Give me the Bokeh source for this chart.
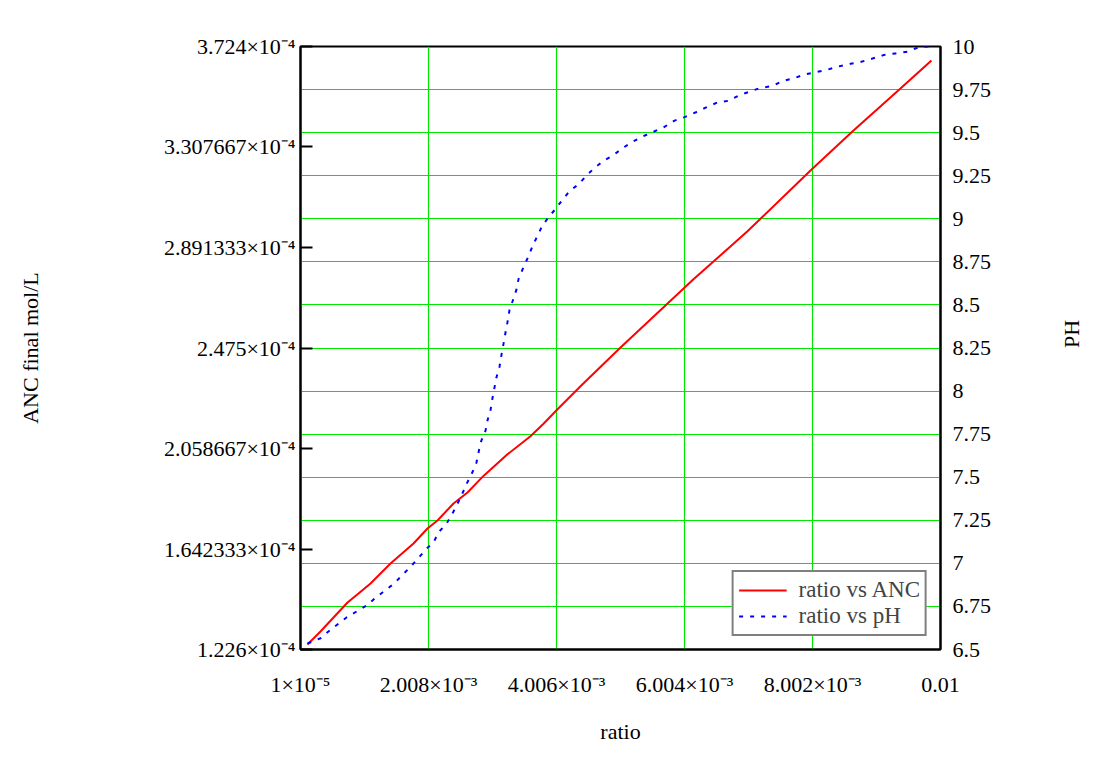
import math
from bokeh.plotting import figure
from bokeh.models import Range1d, LinearAxis, FixedTicker, Grid, Legend, LegendItem
from bokeh.embed import file_html
from bokeh.resources import INLINE

# ---- data ----
ratio_anc = [0.000119, 0.000322, 0.000744, 0.000915, 0.001103, 0.001415, 0.001774,
             0.001992, 0.002148, 0.002398, 0.002617, 0.002866, 0.003241, 0.003600,
             0.003803, 0.004022, 0.004381, 0.005005, 0.005473, 0.006144, 0.006987,
             0.007971, 0.008642, 0.009375, 0.009859]
anc = [1.2467e-4, 1.3006e-4, 1.4207e-4, 1.458e-4, 1.4994e-4, 1.5823e-4, 1.6651e-4,
       1.7273e-4, 1.7604e-4, 1.8308e-4, 1.8764e-4, 1.9451e-4, 2.0346e-4, 2.1091e-4,
       2.1613e-4, 2.221e-4, 2.3163e-4, 2.477e-4, 2.593e-4, 2.7595e-4, 2.9583e-4,
       3.2103e-4, 3.376e-4, 3.55e-4, 3.666e-4]

ratio_ph = [0.000119, 0.000322, 0.000431, 0.000728, 0.001040, 0.001181, 0.001462,
            0.001727, 0.001992, 0.002086, 0.002164, 0.002289, 0.002383, 0.002507,
            0.002601, 0.002695, 0.002757, 0.002820, 0.002898, 0.002929, 0.002976,
            0.003007, 0.003069, 0.003116, 0.003147, 0.003179, 0.003210, 0.003241,
            0.003272, 0.003319, 0.003382, 0.003413, 0.003475, 0.003553, 0.003631,
            0.003694, 0.003772, 0.003881, 0.003975, 0.004100, 0.004209, 0.004349,
            0.004490, 0.004615, 0.004755, 0.004896, 0.005036, 0.005208, 0.005364,
            0.005520, 0.005676, 0.005848, 0.006004, 0.006191, 0.006332, 0.006519,
            0.006691, 0.006847, 0.007034, 0.007190, 0.007377, 0.007534, 0.007705,
            0.007877, 0.008049, 0.008236, 0.008408, 0.008595, 0.008751, 0.008938,
            0.009110, 0.009297, 0.009484, 0.009656, 0.009812]
ph = [6.535, 6.565, 6.60, 6.686, 6.755, 6.80, 6.88,
      6.98, 7.09, 7.12, 7.18, 7.23, 7.29, 7.38,
      7.46, 7.53, 7.585, 7.70, 7.77, 7.83, 7.89,
      7.96, 8.08, 8.14, 8.21, 8.275, 8.34, 8.40,
      8.47, 8.52, 8.59, 8.65, 8.705, 8.77, 8.84,
      8.89, 8.95, 9.01, 9.05, 9.11, 9.16, 9.20,
      9.257, 9.30, 9.34, 9.37, 9.41, 9.45, 9.48,
      9.505, 9.53, 9.57, 9.59, 9.62, 9.645, 9.675,
      9.685, 9.715, 9.74, 9.76, 9.77, 9.80, 9.815,
      9.837, 9.85, 9.866, 9.884, 9.90, 9.91, 9.93,
      9.95, 9.96, 9.97, 9.995, 10.0]

x_ticks = [1e-5, 2.008e-3, 4.006e-3, 6.004e-3, 8.002e-3, 0.01]
x_tick_labels = ["1×10⁻⁵", "2.008×10⁻³", "4.006×10⁻³", "6.004×10⁻³", "8.002×10⁻³", "0.01"]

anc_ticks = [1.226e-4, 1.642333e-4, 2.058667e-4, 2.475e-4, 2.891333e-4, 3.307667e-4, 3.724e-4]
anc_tick_labels = ["1.226×10⁻⁴", "1.642333×10⁻⁴", "2.058667×10⁻⁴", "2.475×10⁻⁴",
                   "2.891333×10⁻⁴", "3.307667×10⁻⁴", "3.724×10⁻⁴"]

ph_ticks = [6.5, 6.75, 7.0, 7.25, 7.5, 7.75, 8.0, 8.25, 8.5, 8.75, 9.0, 9.25, 9.5, 9.75, 10.0]
ph_tick_labels = ["6.5", "6.75", "7", "7.25", "7.5", "7.75", "8", "8.25", "8.5", "8.75",
                  "9", "9.25", "9.5", "9.75", "10"]

FONT = "Liberation Serif"
GREEN = "#00e600"

p = figure(width=1100, height=748, output_backend="svg", toolbar_location=None,
           x_range=Range1d(1e-5, 0.01), y_range=Range1d(1.226e-4, 3.724e-4),
           min_border_left=300, min_border_right=160, min_border_top=46,
           min_border_bottom=99, x_axis_label="ratio", y_axis_label="ANC final mol/L")
p.extra_y_ranges = {"ph": Range1d(6.5, 10)}
p.background_fill_color = "white"
p.border_fill_color = "white"
p.outline_line_color = "black"
p.outline_line_width = 2

# grids
p.xgrid.ticker = FixedTicker(ticks=x_ticks)
p.xgrid.grid_line_color = GREEN
p.xgrid.grid_line_width = 1.2
p.ygrid.visible = False
ph_grid = Grid(dimension=1, ticker=FixedTicker(ticks=ph_ticks), y_range_name="ph",
               grid_line_color=GREEN, grid_line_width=1.2)
p.add_layout(ph_grid)

# bottom axis
xa = p.xaxis[0]
xa.ticker = FixedTicker(ticks=x_ticks)
xa.major_label_overrides = dict(zip(x_ticks, x_tick_labels))

# left axis
ya = p.yaxis[0]
ya.ticker = FixedTicker(ticks=anc_ticks)
ya.major_label_overrides = dict(zip(anc_ticks, anc_tick_labels))

# right axis
ra = LinearAxis(y_range_name="ph", ticker=FixedTicker(ticks=ph_ticks), axis_label="PH")
ra.major_label_overrides = dict(zip(ph_ticks, ph_tick_labels))
p.add_layout(ra, "right")

for ax in (xa, ya, ra):
    ax.axis_line_color = "black"
    ax.axis_line_width = 2
    ax.minor_tick_line_color = None
    ax.major_label_text_font = FONT
    ax.major_label_text_font_size = "22px"
    ax.major_label_text_color = "black"
    ax.axis_label_text_font = FONT
    ax.axis_label_text_font_size = "22px"
    ax.axis_label_text_font_style = "normal"
    ax.axis_label_text_color = "black"

xa.major_tick_line_color = None
xa.major_label_standoff = 16
xa.axis_label_standoff = 19

ya.major_tick_in = 12
ya.major_tick_out = 0
ya.major_tick_line_width = 2
ya.major_tick_line_color = "black"
ya.major_label_standoff = 5
ya.axis_label_standoff = 118

ra.major_tick_line_color = None
ra.major_label_standoff = 6
ra.axis_label_standoff = 77
ra.axis_label_orientation = math.pi / 2

r_anc = p.line(ratio_anc, anc, line_color="red", line_width=2)
r_ph = p.line(ratio_ph, ph, y_range_name="ph", line_color="blue", line_width=2,
              line_dash="4 7")

legend = Legend(items=[LegendItem(label="ratio vs ANC", renderers=[r_anc]),
                       LegendItem(label="ratio vs pH", renderers=[r_ph])],
                location="bottom_right")
legend.margin = 13
legend.padding = 5
legend.spacing = 0
legend.label_standoff = 12
legend.glyph_width = 48
legend.label_height = 26
legend.label_text_font = FONT
legend.label_text_font_size = "23px"
legend.border_line_color = "black"
legend.border_line_width = 2
legend.background_fill_alpha = 1.0
p.add_layout(legend)

open("out.html", "w").write(file_html(p, INLINE))
